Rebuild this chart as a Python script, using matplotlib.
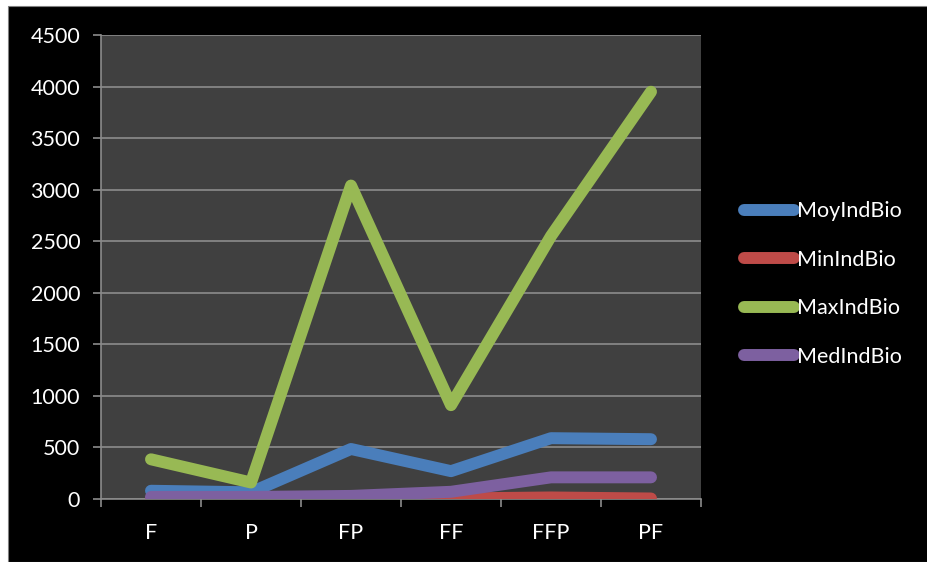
import numpy as np
import matplotlib
matplotlib.use("Agg")
from matplotlib import pyplot as plt
from matplotlib.patches import Rectangle

categories = ["F", "P", "FP", "FF", "FFP", "PF"]
moy = [80, 65, 485, 270, 590, 580]
mini = [0, 0, 2, 5, 15, 5]
maxi = [385, 160, 3040, 910, 2550, 3950]
med = [20, 20, 30, 70, 210, 210]
series_names = ["MoyIndBio", "MinIndBio", "MaxIndBio", "MedIndBio"]
colors = ["#4A7EBB", "#BE4B48", "#98B954", "#7D60A0"]
yticks = np.arange(0, 4501, 500)

plt.rcParams['font.family'] = ['Lato', 'DejaVu Sans']

fig = plt.figure(figsize=(9.27, 5.62), dpi=100, facecolor="white")
# black chart area with a thin white margin at top/left
fig.patches.append(Rectangle((8 / 927, 0), 1, 1 - 6 / 562, transform=fig.transFigure,
                             facecolor="black", edgecolor="#808080", lw=0.8, zorder=-10))

ax = fig.add_axes([101 / 927, 1 - 499 / 562, 600 / 927, 464 / 562])
ax.set_facecolor("#404040")

x = np.arange(len(categories))
for vals, name, c in zip([moy, mini, maxi, med], series_names, colors):
    ax.plot(x, vals, color=c, lw=8.6, label=name,
            solid_capstyle="round", solid_joinstyle="round", zorder=3)

ax.set_xlim(-0.5, len(categories) - 0.5)
ax.set_ylim(0, 4500)
ax.set_yticks(yticks)
ax.set_yticklabels([str(v) for v in yticks])
ax.set_xticks(x)
ax.set_xticklabels(categories)
ax.set_xticks(np.arange(-0.5, len(categories)), minor=True)

ax.grid(axis="y", color="#8C8C8C", lw=1.2, zorder=1)
ax.set_axisbelow(True)
for s in ["top", "right"]:
    ax.spines[s].set_visible(False)
ax.spines["left"].set_color("#8C8C8C")
ax.spines["bottom"].set_color("#8C8C8C")
ax.spines["left"].set_linewidth(1.2)
ax.spines["bottom"].set_linewidth(1.2)

ax.tick_params(axis="y", colors="#8C8C8C", labelcolor="white", labelsize=15.5,
               length=6, width=1.2, pad=9)
ax.tick_params(axis="x", which="major", length=0, labelcolor="white", labelsize=15.5, pad=17)
ax.tick_params(axis="x", which="minor", colors="#8C8C8C", length=6, width=1.2)

leg = fig.legend(loc="center left", bbox_to_anchor=(725 / 927, 1 - 284 / 562),
                 frameon=False, fontsize=15.5, labelcolor="white",
                 handlelength=2.3, handletextpad=0.15, labelspacing=1.33)

fig.savefig("out.png", dpi=100, facecolor=fig.get_facecolor())
